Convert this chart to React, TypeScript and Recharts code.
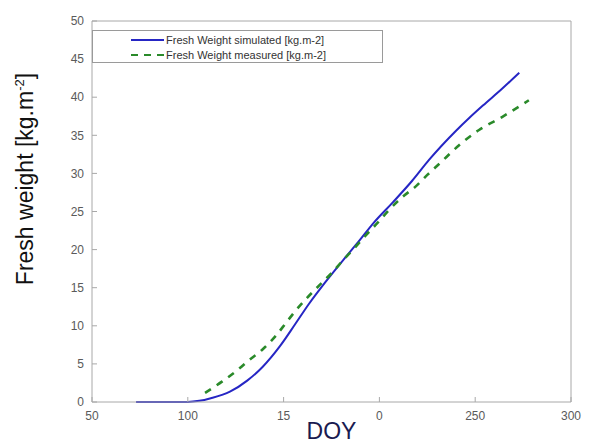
import React from "react";
import {
  LineChart,
  Line,
  XAxis,
  YAxis,
  Legend,
  Label,
} from "recharts";

// simulated fresh weight (solid blue)
const simDoy = [73, 90, 100, 106, 112, 122, 131, 139, 148, 156, 163, 172, 181, 189, 197, 207, 217, 226, 240, 247, 254, 264, 273];
const simWeight = [0, 0, 0, 0.15, 0.5, 1.35, 2.8, 4.6, 7.3, 10.2, 12.8, 15.8, 18.6, 21.0, 23.5, 26.2, 29.0, 31.8, 35.6, 37.3, 38.9, 41.1, 43.2];

// measured fresh weight (dashed green)
const measDoy = [109, 118, 125, 132, 139, 146, 151, 156, 162, 169, 175, 181, 187, 193, 199, 205, 212, 219, 225, 231, 243, 252, 264, 278];
const measWeight = [1.2, 2.7, 4.0, 5.5, 6.9, 8.7, 10.3, 11.9, 13.6, 15.4, 16.9, 18.6, 20.2, 21.9, 23.5, 25.2, 26.9, 28.3, 29.8, 31.2, 34.0, 35.7, 37.4, 39.6];

const xTicks = [50, 100, 150, 200, 250, 300];
const xTickLabels = ["50", "100", "15", "0", "250", "300"];
const yTicks = [0, 5, 10, 15, 20, 25, 30, 35, 40, 45, 50];

const simData = simDoy.map((d, i) => ({ doy: d, weight: simWeight[i] }));
const measData = measDoy.map((d, i) => ({ doy: d, weight: measWeight[i] }));

const BLUE = "#2626c4";
const GREEN = "#2a8a2a";
const AXIS = "#a8a8a8";
const TICKTXT = "#5a5a5a";
const FONT = "'Liberation Sans', Arial, sans-serif";

const legendItems = [
  { label: "Fresh Weight simulated [kg.m-2]", color: BLUE, dash: undefined },
  { label: "Fresh Weight measured [kg.m-2]", color: GREEN, dash: "7 6" },
];

function renderLegend() {
  return (
    <div
      style={{
        width: 289,
        height: 31,
        border: "1px solid #9a9a9a",
        background: "#fff",
        fontFamily: FONT,
        fontSize: 11,
        color: "#333",
        boxSizing: "content-box",
      }}
    >
      {legendItems.map((it, i) => (
        <div key={i} style={{ display: "flex", alignItems: "center", height: 15, marginTop: i === 0 ? 1 : 0 }}>
          <svg width={73} height={10} style={{ display: "block" }}>
            <line x1={38} x2={71} y1={5} y2={5} stroke={it.color} strokeWidth={2.2} strokeDasharray={it.dash} />
          </svg>
          <span>{it.label}</span>
        </div>
      ))}
    </div>
  );
}

function YLabel() {
  const x = 33;
  const y = 179;
  return (
    <text
      x={x}
      y={y}
      transform={`rotate(-90, ${x}, ${y})`}
      textAnchor="middle"
      fontFamily={FONT}
      fontSize={23}
      fill="#111"
    >
      Fresh weight [kg.m
      <tspan dy={-9} fontSize={13}>-2</tspan>
      <tspan dy={9}>]</tspan>
    </text>
  );
}

export default function App() {
  return (
    <div style={{ position: "absolute", left: 0, top: 0, width: 590, height: 446, background: "#fff" }}>
      <LineChart width={590} height={446} margin={{ top: 20, right: 18, bottom: 0, left: 0 }}>
        <XAxis
          xAxisId="b"
          dataKey="doy"
          type="number"
          domain={[50, 300]}
          ticks={xTicks}
          tickFormatter={(v: number) => xTickLabels[xTicks.indexOf(v)] ?? String(v)}
          height={44}
          stroke={AXIS}
          tickSize={-5}
          tickMargin={14}
          tick={{ fill: TICKTXT, fontSize: 12, fontFamily: FONT }}
          allowDataOverflow
        >
          <Label
            value="DOY"
            position="insideBottom"
            offset={7}
            style={{ fontFamily: FONT, fontSize: 23, fill: "#1a1a50" }}
          />
        </XAxis>
        <XAxis
          xAxisId="t"
          orientation="top"
          dataKey="doy"
          type="number"
          domain={[50, 300]}
          ticks={xTicks}
          height={1}
          stroke={AXIS}
          tickSize={-5}
          tick={false}
        />
        <YAxis
          yAxisId="l"
          type="number"
          domain={[0, 50]}
          ticks={yTicks}
          width={92}
          stroke={AXIS}
          tickSize={-5}
          tickMargin={13}
          tick={{ fill: TICKTXT, fontSize: 12, fontFamily: FONT }}
          label={<YLabel />}
        />
        <YAxis
          yAxisId="r"
          orientation="right"
          type="number"
          domain={[0, 50]}
          ticks={yTicks}
          width={1}
          stroke={AXIS}
          tickSize={-5}
          tick={false}
        />
        <Legend
          layout="vertical"
          align="center"
          verticalAlign="middle"
          content={renderLegend}
          wrapperStyle={{ position: "absolute", left: 92, top: 30, width: 291, height: 33 }}
        />
        {/* invisible series so the top/right box axes get drawn */}
        <Line
          xAxisId="t"
          yAxisId="r"
          data={simData}
          dataKey="weight"
          stroke="none"
          dot={false}
          activeDot={false}
          legendType="none"
          isAnimationActive={false}
        />
        <Line
          xAxisId="b"
          yAxisId="l"
          data={simData}
          dataKey="weight"
          name="Fresh Weight simulated [kg.m-2]"
          type="monotone"
          stroke={BLUE}
          strokeWidth={2}
          dot={false}
          activeDot={false}
          isAnimationActive={false}
        />
        <Line
          xAxisId="b"
          yAxisId="l"
          data={measData}
          dataKey="weight"
          name="Fresh Weight measured [kg.m-2]"
          type="monotone"
          stroke={GREEN}
          strokeWidth={2.6}
          strokeDasharray="7 7"
          dot={false}
          activeDot={false}
          isAnimationActive={false}
        />
      </LineChart>
    </div>
  );
}
